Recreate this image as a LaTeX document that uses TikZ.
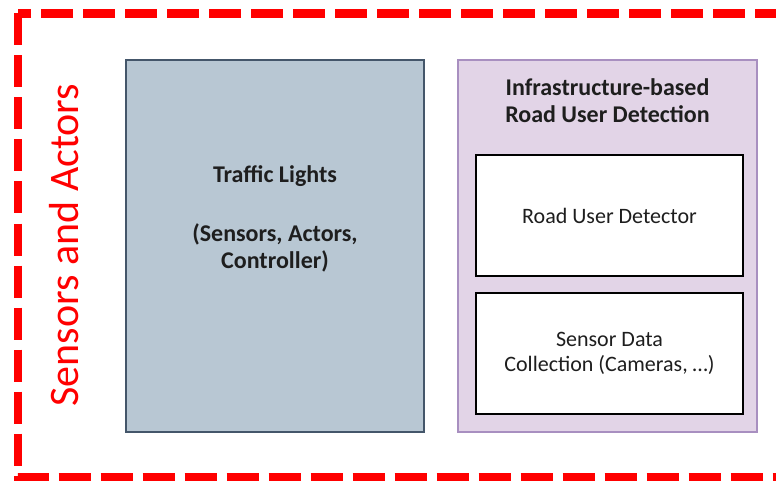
\documentclass[tikz,border=0pt]{standalone}
\usepackage{fontspec}
\setmainfont{Carlito}
\usetikzlibrary{positioning}

\definecolor{lightsfill}{HTML}{B8C7D3}
\definecolor{lightsdraw}{HTML}{44566A}
\definecolor{detectfill}{HTML}{E2D4E7}
\definecolor{detectdraw}{HTML}{A88FC0}
\definecolor{textgray}{HTML}{1E1E1E}

\tikzset{
  block/.style={draw, line width=2pt, inner sep=0pt},
  innerblock/.style={block, draw=black, fill=white, minimum width=267pt, minimum height=121pt,
    align=center, text=textgray, font=\fontsize{22}{25.5}\selectfont},
  heading/.style={align=center, inner sep=0pt, text=textgray, font=\fontsize{24}{27.5}\selectfont\bfseries},
}

\begin{document}
\begin{tikzpicture}[x=1pt,y=-1pt]
\clip (0,0) rectangle (776,481);
% Rahmen
\draw[red, line width=8.5pt, dash pattern=on 32pt off 10pt] (18,13.5) rectangle (800,477);
\node[rotate=90, text=red, inner sep=0pt, font=\fontsize{42}{46}\selectfont] (sensors) at (64,245) {Sensors and Actors};

% Ampeln
\node[block, draw=lightsdraw, fill=lightsfill, minimum width=298pt, minimum height=372pt] (lights) at (275,246) {};
\node[heading, yshift=27pt] (lightstext) at (lights) {Traffic Lights\\[31pt](Sensors, Actors,\\Controller)};

% Erkennung
\node[block, draw=detectdraw, fill=detectfill, minimum width=299pt, minimum height=372pt] (detection) at (607.5,246) {};
\node[heading, below=19pt of detection.north] (detectiontitle) {Infrastructure-based\\Road User Detection};
\node[innerblock] (detector) at (609.5,215.5) {Road User Detector};
\node[innerblock] (collection) at (609.5,353.5) {Sensor Data\\Collection (Cameras, \dots)};
\end{tikzpicture}
\end{document}
